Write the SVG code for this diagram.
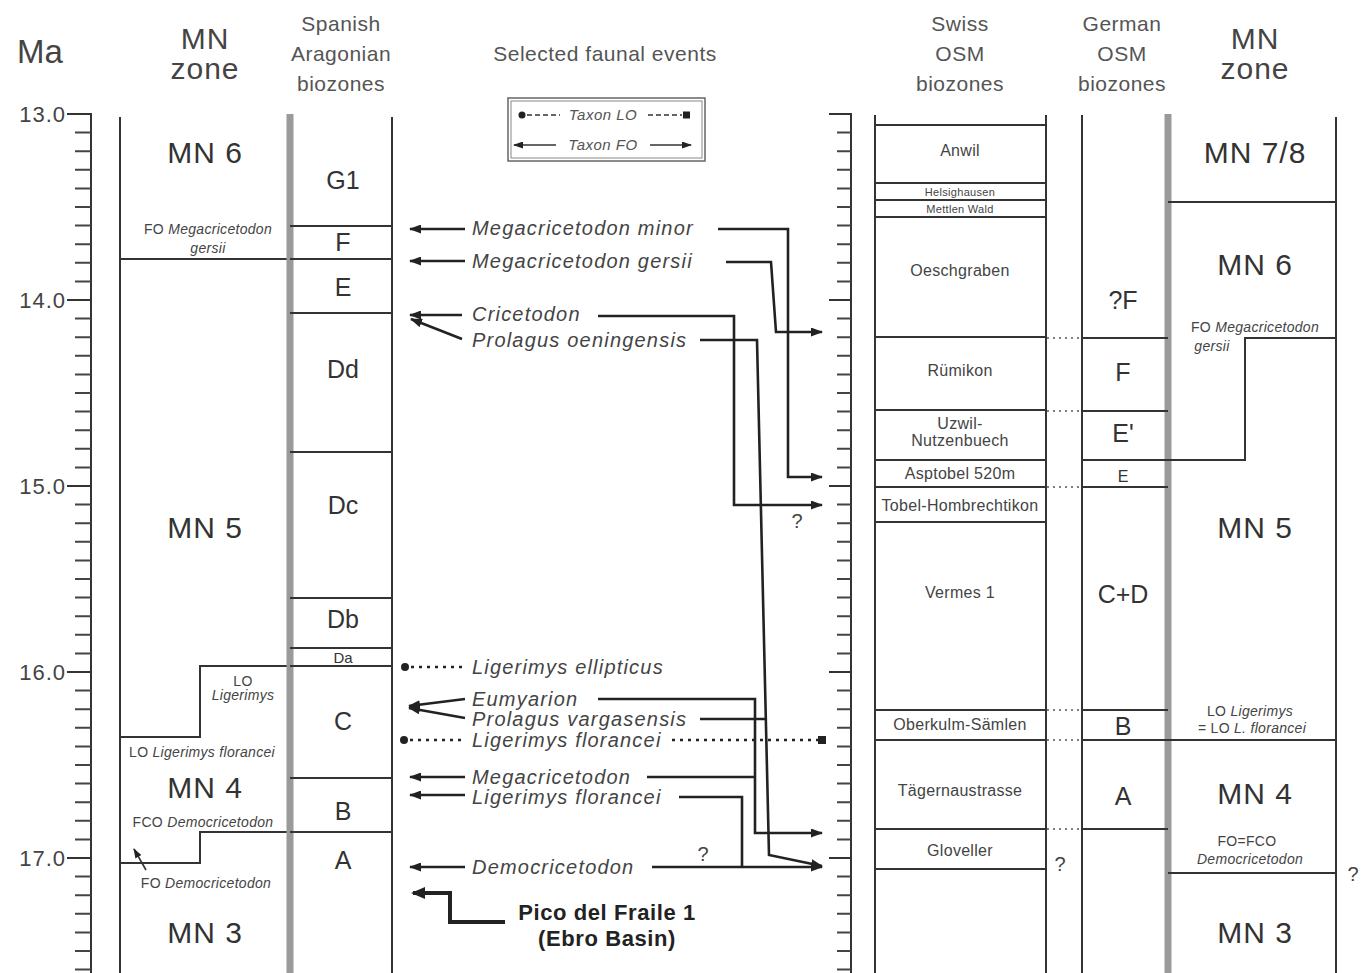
<svg xmlns="http://www.w3.org/2000/svg" width="1368" height="973" viewBox="0 0 1368 973">
<style>
.ln{stroke:#333;stroke-width:2;fill:none}
.cn{stroke:#222;stroke-width:2.6;fill:none}
.th{stroke:#333;stroke-width:1.6;fill:none}
.gb{stroke:#9a9a9a;stroke-width:7;fill:none}
.dt{stroke:#222;stroke-width:2.6;fill:none;stroke-dasharray:3 5}
.dl{stroke:#555;stroke-width:1.5;fill:none;stroke-dasharray:2 4}
.lg{stroke:#333;stroke-width:1.6;fill:none;stroke-dasharray:5 3}
text{font-family:"Liberation Sans",Arial,sans-serif;fill:#333}
.mn{font-size:30px;text-anchor:middle;letter-spacing:1px}
.hd{font-size:21px;text-anchor:middle;fill:#555;letter-spacing:0.5px}
.sz{font-size:25px;text-anchor:middle}
.tx{font-size:20px;font-style:italic;letter-spacing:1.2px;fill:#444}
.sm{font-size:14px;text-anchor:middle;letter-spacing:0.3px;fill:#444}
.sw{font-size:16px;text-anchor:middle;letter-spacing:0.3px;fill:#444}
.num{font-size:22px;text-anchor:end;letter-spacing:1px;fill:#444}
.i{font-style:italic}
</style>
<defs>
<marker id="ah" markerWidth="12" markerHeight="9" refX="11" refY="4.5" orient="auto" markerUnits="userSpaceOnUse">
<path d="M0,0 L12,4.5 L0,9 z" fill="#222"/>
</marker>
<marker id="ahs" markerWidth="10" markerHeight="7" refX="9" refY="3.5" orient="auto" markerUnits="userSpaceOnUse">
<path d="M0,0 L10,3.5 L0,7 z" fill="#222"/>
</marker>
<marker id="ahb" markerWidth="14" markerHeight="12" refX="12" refY="6" orient="auto" markerUnits="userSpaceOnUse">
<path d="M0,0 L14,6 L0,12 z" fill="#222"/>
</marker>
</defs>
<rect width="1368" height="973" fill="#fff"/>

<g id="header">
<text x="40" y="63" style="font-size:33px;text-anchor:middle;fill:#444">Ma</text>
<text class="mn" x="205" y="49" style="fill:#444">MN</text>
<text class="mn" x="205" y="79" style="fill:#444">zone</text>
<text class="hd" x="341" y="31">Spanish</text>
<text class="hd" x="341" y="61">Aragonian</text>
<text class="hd" x="341" y="91">biozones</text>
<text class="hd" x="605" y="61">Selected faunal events</text>
<text class="hd" x="960" y="31">Swiss</text>
<text class="hd" x="960" y="61">OSM</text>
<text class="hd" x="960" y="91">biozones</text>
<text class="hd" x="1122" y="31">German</text>
<text class="hd" x="1122" y="61">OSM</text>
<text class="hd" x="1122" y="91">biozones</text>
<text class="mn" x="1255" y="49" style="fill:#444">MN</text>
<text class="mn" x="1255" y="79" style="fill:#444">zone</text>
</g>

<g id="axis-left">
<line x1="91" y1="113" x2="91" y2="973" class="ln"/>
<line x1="83" y1="113" x2="83" y2="973" style="stroke:#444;stroke-width:16;stroke-dasharray:2 16.6"/>
<path class="ln" d="M67,114H91M67,300H91M67,486H91M67,672H91M67,858H91"/>
<text class="num" x="66" y="122">13.0</text>
<text class="num" x="66" y="308">14.0</text>
<text class="num" x="66" y="494">15.0</text>
<text class="num" x="66" y="680">16.0</text>
<text class="num" x="66" y="866">17.0</text>
</g>

<g id="axis-mid">
<line x1="851" y1="113" x2="851" y2="973" class="ln"/>
<line x1="844" y1="113" x2="844" y2="973" style="stroke:#444;stroke-width:14;stroke-dasharray:2 16.6"/>
<path class="ln" d="M829,114H851M829,300H851M829,486H851M829,672H851M829,858H851"/>
</g>

<g id="mn-left">
<line x1="120" y1="117" x2="120" y2="973" class="ln"/>
<path class="ln" d="M120,259H290"/>
<path class="ln" d="M290,666H200V737H120"/>
<path class="ln" d="M290,832H200V863H120"/>
<path d="M146,870L134,849" class="th" marker-end="url(#ahs)"/>
<text class="mn" x="205" y="163">MN 6</text>
<text class="sm" x="208" y="234">FO <tspan class="i">Megacricetodon</tspan></text>
<text class="sm i" x="208" y="253">gersii</text>
<text class="mn" x="205" y="538">MN 5</text>
<text class="sm" x="243" y="686">LO</text>
<text class="sm i" x="243" y="700">Ligerimys</text>
<text class="sm" x="202" y="757">LO <tspan class="i">Ligerimys florancei</tspan></text>
<text class="mn" x="205" y="798">MN 4</text>
<text class="sm" x="203" y="827">FCO <tspan class="i">Democricetodon</tspan></text>
<text class="sm" x="206" y="888">FO <tspan class="i">Democricetodon</tspan></text>
<text class="mn" x="205" y="943">MN 3</text>
</g>

<g id="spanish">
<line x1="290" y1="114" x2="290" y2="973" class="gb"/>
<line x1="392" y1="117" x2="392" y2="973" class="ln"/>
<path class="ln" d="M290,226H392M290,259H392M290,313H392M290,452H392M290,598H392M290,648H392M290,666H392M290,778H392M290,832H392"/>
<text class="sz" x="343" y="189">G1</text>
<text class="sz" x="343" y="251">F</text>
<text class="sz" x="343" y="296">E</text>
<text class="sz" x="343" y="378">Dd</text>
<text class="sz" x="343" y="514">Dc</text>
<text class="sz" x="343" y="628">Db</text>
<text class="sz" x="343" y="663" style="font-size:15px">Da</text>
<text class="sz" x="343" y="730">C</text>
<text class="sz" x="343" y="820">B</text>
<text class="sz" x="343" y="869">A</text>
</g>

<g id="legend">
<rect x="508" y="98" width="197" height="63" fill="none" stroke="#666" stroke-width="1.5"/>
<rect x="511" y="101" width="191" height="57" fill="none" stroke="#888" stroke-width="1"/>
<circle cx="522" cy="115" r="3.5" fill="#222"/>
<path class="lg" d="M527,115H560M648,115H682"/>
<rect x="683" y="111.5" width="7" height="7" fill="#222"/>
<text x="603" y="120" style="font-size:15px;font-style:italic;text-anchor:middle;fill:#555;letter-spacing:0.5px">Taxon LO</text>
<path class="th" d="M556,145H514" marker-end="url(#ahs)"/>
<path class="th" d="M650,145H691" marker-end="url(#ahs)"/>
<text x="603" y="150" style="font-size:15px;font-style:italic;text-anchor:middle;fill:#555;letter-spacing:0.5px">Taxon FO</text>
</g>

<g id="event-labels">
<text class="tx" x="472" y="235">Megacricetodon minor</text>
<text class="tx" x="472" y="268">Megacricetodon gersii</text>
<text class="tx" x="472" y="321">Cricetodon</text>
<text class="tx" x="472" y="347">Prolagus oeningensis</text>
<text class="tx" x="472" y="674">Ligerimys ellipticus</text>
<text class="tx" x="472" y="706">Eumyarion</text>
<text class="tx" x="472" y="726">Prolagus vargasensis</text>
<text class="tx" x="472" y="747">Ligerimys florancei</text>
<text class="tx" x="472" y="784">Megacricetodon</text>
<text class="tx" x="472" y="804">Ligerimys florancei</text>
<text class="tx" x="472" y="874">Democricetodon</text>
<text x="797" y="528" style="font-size:20px;text-anchor:middle;fill:#444">?</text>
<text x="703" y="861" style="font-size:20px;text-anchor:middle;fill:#444">?</text>
</g>

<g id="pico">
<text x="607" y="920" style="font-size:22px;font-weight:bold;text-anchor:middle;fill:#222;letter-spacing:0.6px">Pico del Fraile 1</text>
<text x="607" y="946" style="font-size:22px;font-weight:bold;text-anchor:middle;fill:#222;letter-spacing:0.6px">(Ebro Basin)</text>
</g>

<g id="connectors">
<path class="cn" d="M465,229H410" marker-end="url(#ah)"/>
<path class="cn" d="M465,261H410" marker-end="url(#ah)"/>
<path class="cn" d="M462,315H410" marker-end="url(#ah)"/>
<path class="cn" d="M462,339L411,319" marker-end="url(#ah)"/>
<circle cx="405" cy="667" r="4" fill="#222"/>
<path class="dt" d="M411,667H466"/>
<path class="cn" d="M465,699L409,706" marker-end="url(#ah)"/>
<path class="cn" d="M465,718L409,708" marker-end="url(#ah)"/>
<circle cx="404" cy="740" r="4" fill="#222"/>
<path class="dt" d="M410,740H466"/>
<path class="cn" d="M465,777H410" marker-end="url(#ah)"/>
<path class="cn" d="M465,795H410" marker-end="url(#ah)"/>
<path class="cn" d="M465,867H410" marker-end="url(#ah)"/>
<path style="stroke:#222;stroke-width:4;fill:none" d="M505,922H450V893H413" marker-end="url(#ahb)"/>

<path class="cn" d="M718,229H788V477H822" marker-end="url(#ah)"/>
<path class="cn" d="M726,262H771L776,332H822" marker-end="url(#ah)"/>
<path class="cn" d="M598,316H734V505H822" marker-end="url(#ah)"/>
<path class="cn" d="M700,340H757L769,855L822,866" marker-end="url(#ah)"/>
<path class="cn" d="M598,699H755V833H822" marker-end="url(#ah)"/>
<path class="cn" d="M700,719H766"/>
<path class="cn" d="M647,777H755"/>
<path class="cn" d="M679,797H742V867"/>
<path class="cn" d="M652,867H822" marker-end="url(#ah)"/>
<path class="dt" d="M672,740H818"/>
<rect x="818" y="736" width="8" height="8" fill="#222"/>
</g>

<g id="swiss">
<line x1="875" y1="115" x2="875" y2="973" class="ln"/>
<line x1="1046" y1="115" x2="1046" y2="973" class="ln"/>
<path class="ln" d="M875,125H1046M875,183H1046M875,200H1046M875,217H1046M875,337H1046M875,410H1046M875,460H1046M875,487H1046M875,522H1046M875,710H1046M875,740H1046M875,829H1046M875,869H1046"/>
<text class="sw" x="960" y="156">Anwil</text>
<text class="sw" x="960" y="196" style="font-size:11px">Helsighausen</text>
<text class="sw" x="960" y="213" style="font-size:11px">Mettlen Wald</text>
<text class="sw" x="960" y="276">Oeschgraben</text>
<text class="sw" x="960" y="376">Rümikon</text>
<text class="sw" x="960" y="429">Uzwil-</text>
<text class="sw" x="960" y="446">Nutzenbuech</text>
<text class="sw" x="960" y="479">Asptobel 520m</text>
<text class="sw" x="960" y="511">Tobel-Hombrechtikon</text>
<text class="sw" x="960" y="598">Vermes 1</text>
<text class="sw" x="960" y="730">Oberkulm-Sämlen</text>
<text class="sw" x="960" y="796">Tägernaustrasse</text>
<text class="sw" x="960" y="856">Gloveller</text>
<text x="1060" y="871" style="font-size:20px;text-anchor:middle;fill:#444">?</text>
</g>

<g id="german">
<line x1="1082" y1="115" x2="1082" y2="973" class="ln"/>
<line x1="1168" y1="114" x2="1168" y2="973" class="gb"/>
<path class="ln" d="M1082,338H1168M1082,411H1168M1082,460H1168M1082,487H1168M1082,710H1168M1082,740H1168M1082,829H1168"/>
<path class="dl" d="M1047,338H1082M1047,411H1082M1047,487H1082M1047,710H1082M1047,740H1082M1047,829H1082"/>
<text class="sz" x="1123" y="309">?F</text>
<text class="sz" x="1123" y="381">F</text>
<text class="sz" x="1123" y="442">E'</text>
<text class="sz" x="1123" y="482" style="font-size:16px">E</text>
<text class="sz" x="1123" y="603">C+D</text>
<text class="sz" x="1123" y="735">B</text>
<text class="sz" x="1123" y="805">A</text>
</g>

<g id="mn-right">
<line x1="1336" y1="117" x2="1336" y2="973" class="ln"/>
<path class="ln" d="M1168,202H1336"/>
<path class="ln" d="M1336,338H1245V460H1168"/>
<path class="ln" d="M1168,740H1336"/>
<path class="ln" d="M1168,873H1336"/>
<text class="mn" x="1255" y="163">MN 7/8</text>
<text class="mn" x="1255" y="275">MN 6</text>
<text class="sm" x="1255" y="332">FO <tspan class="i">Megacricetodon</tspan></text>
<text class="sm i" x="1212" y="351">gersii</text>
<text class="mn" x="1255" y="538">MN 5</text>
<text class="sm" x="1250" y="716">LO <tspan class="i">Ligerimys</tspan></text>
<text class="sm" x="1252" y="733">= LO <tspan class="i">L. florancei</tspan></text>
<text class="mn" x="1255" y="804">MN 4</text>
<text class="sm" x="1247" y="846">FO=FCO</text>
<text class="sm i" x="1250" y="864">Democricetodon</text>
<text class="mn" x="1255" y="943">MN 3</text>
<text x="1353" y="881" style="font-size:20px;text-anchor:middle;fill:#444">?</text>
</g>
</svg>
